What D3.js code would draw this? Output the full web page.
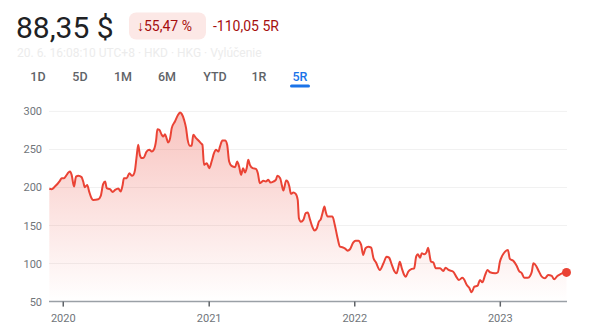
<!DOCTYPE html>
<html>
<head>
<meta charset="utf-8">
<script src="https://cdn.jsdelivr.net/npm/d3@7"></script>
<style>
  body { margin: 0; background: #fff; }
  svg { display: block; font-family: Roboto, "Noto Sans", Arial, sans-serif; }
</style>
</head>
<body>
<svg id="chart" width="602" height="336"></svg>
<script>
var dates = [
  "2019-11-27","2019-12-03","2019-12-11","2019-12-24","2019-12-28",
  "2020-01-03","2020-01-08","2020-01-14","2020-01-18","2020-01-22","2020-01-28","2020-02-02","2020-02-08","2020-02-16","2020-02-20","2020-02-24",
  "2020-03-01","2020-03-06","2020-03-12","2020-03-16","2020-03-29","2020-04-04","2020-04-10","2020-04-15","2020-04-19","2020-04-27",
  "2020-05-04","2020-05-10","2020-05-18","2020-05-24","2020-05-29","2020-06-01","2020-06-08","2020-06-15","2020-06-21","2020-06-25","2020-06-29",
  "2020-07-03","2020-07-07","2020-07-11","2020-07-16","2020-07-21","2020-07-28","2020-08-04","2020-08-10","2020-08-15","2020-08-21","2020-08-24","2020-08-29",
  "2020-09-04","2020-09-08","2020-09-12","2020-09-16","2020-09-20","2020-09-25","2020-09-29","2020-10-07","2020-10-15","2020-10-20","2020-10-24","2020-10-30",
  "2020-11-04","2020-11-08","2020-11-14","2020-11-18","2020-11-22","2020-11-29","2020-12-05","2020-12-11","2020-12-15","2020-12-19","2020-12-26",
  "2021-01-01","2021-01-07","2021-01-13","2021-01-18","2021-01-24","2021-01-28","2021-02-03","2021-02-10","2021-02-15","2021-02-20","2021-02-26",
  "2021-03-07","2021-03-12","2021-03-17","2021-03-22","2021-03-27","2021-04-01","2021-04-05","2021-04-09","2021-04-13","2021-04-20","2021-04-28",
  "2021-05-03","2021-05-08","2021-05-17","2021-05-23","2021-05-29","2021-06-04","2021-06-11","2021-06-17","2021-06-21","2021-06-28",
  "2021-07-02","2021-07-06","2021-07-13","2021-07-17","2021-07-21","2021-07-25","2021-07-31","2021-08-06","2021-08-11","2021-08-14","2021-08-19","2021-08-25","2021-08-31",
  "2021-09-05","2021-09-11","2021-09-17","2021-09-22","2021-09-28","2021-10-03","2021-10-08","2021-10-12","2021-10-17","2021-10-20","2021-10-25","2021-10-31",
  "2021-11-06","2021-11-12","2021-11-19","2021-11-25","2021-12-01","2021-12-08","2021-12-14","2021-12-20","2021-12-28",
  "2022-01-03","2022-01-10","2022-01-17","2022-01-22","2022-01-28","2022-02-04","2022-02-11","2022-02-17","2022-02-23",
  "2022-03-05","2022-03-14","2022-03-22","2022-03-28","2022-04-04","2022-04-10","2022-04-16","2022-04-20","2022-04-24","2022-04-29",
  "2022-05-05","2022-05-09","2022-05-15","2022-05-24","2022-05-30","2022-06-04","2022-06-08","2022-06-14","2022-06-18","2022-06-24","2022-06-30",
  "2022-07-04","2022-07-09","2022-07-11","2022-07-17","2022-07-23","2022-08-03","2022-08-11","2022-08-17","2022-08-24",
  "2022-09-05","2022-09-14","2022-09-19","2022-09-28","2022-10-03","2022-10-09","2022-10-15","2022-10-21","2022-10-28",
  "2022-11-05","2022-11-11","2022-11-17","2022-11-24","2022-11-30","2022-12-06","2022-12-19","2022-12-26","2022-12-31",
  "2023-01-06","2023-01-13","2023-01-20","2023-01-25","2023-02-03","2023-02-11","2023-02-17","2023-02-24",
  "2023-03-02","2023-03-11","2023-03-17","2023-03-21","2023-03-25","2023-04-01","2023-04-06","2023-04-15","2023-04-23",
  "2023-05-01","2023-05-10","2023-05-16","2023-05-24","2023-06-02","2023-06-08","2023-06-16"
];
var prices = [
  198.4,197.8,201.2,209.1,212.2,
  212.2,215.3,219.6,220.9,216.6,201.2,214.3,215.3,213.6,207.8,200.4,
  203.4,194.6,185.9,183.7,184.6,188.9,204.3,207.8,199.1,197.8,
  194.2,196.8,198.6,194.6,203.4,212.2,212.2,218.8,215.3,216.6,223.2,
  240.7,256.1,242.9,238.6,239.3,247.2,249.5,247.2,249.5,262.6,276.7,275.8,
  269.2,267.0,270.1,264.9,259.1,264.9,278.0,286.7,295.5,298.6,296.8,288.9,
  278.0,262.6,254.7,254.7,269.2,264.9,261.7,258.3,256.1,229.7,232.0,
  225.4,234.1,245.1,249.5,247.2,253.8,261.7,261.7,256.1,234.1,228.4,
  226.7,234.1,227.5,216.6,225.4,219.6,225.4,236.3,229.7,225.4,224.5,
  218.8,205.7,208.7,207.8,210.0,206.4,207.8,210.0,215.3,212.2,
  203.4,195.9,209.1,207.8,201.2,191.6,193.3,191.6,183.7,159.6,155.1,157.4,166.2,
  167.0,157.4,147.8,143.3,146.4,155.1,158.3,166.2,174.9,168.3,161.7,161.7,
  161.7,150.8,133.3,122.2,121.4,119.6,117.0,118.8,127.5,
  130.1,130.1,124.5,111.3,120.1,122.2,120.9,107.0,101.7,
  91.6,100.4,109.1,107.8,98.2,90.3,87.2,94.6,102.5,93.8,
  85.0,82.8,89.3,92.9,93.8,109.1,112.2,107.8,113.6,112.2,114.9,
  120.9,107.0,102.5,101.7,93.8,93.8,90.3,94.6,91.6,
  89.3,81.4,78.4,81.4,78.4,71.8,68.3,62.2,69.6,
  70.9,78.4,75.4,85.0,91.6,88.6,87.2,88.6,102.5,
  110.4,115.7,117.9,106.1,103.4,97.2,90.3,87.2,
  81.4,81.4,84.1,89.3,100.4,96.8,91.6,82.8,80.7,
  85.0,83.7,79.3,83.7,86.3,88.0,88.35
];
var yTicks = [50, 100, 150, 200, 250, 300];
var yearTicks = ["2020-01-01", "2021-01-01", "2022-01-01", "2023-01-01"];
var tabs = ["1D", "5D", "1M", "6M", "YTD", "1R", "5R"];
var activeTab = "5R";

var parse = d3.utcParse("%Y-%m-%d");
var data = dates.map(function (d, i) { return { date: parse(d), value: prices[i] }; });

var svg = d3.select("#chart");
var red = "#ea4335";

// header
svg.append("text").attr("x", 16).attr("y", 38)
  .attr("font-size", 30).attr("fill", "#202124").text("88,35 $");

svg.append("rect").attr("x", 129).attr("y", 12.5).attr("width", 77).attr("height", 27)
  .attr("rx", 7).attr("fill", "#fce8e6");
svg.append("text").attr("x", 137).attr("y", 31)
  .attr("font-size", 14).attr("fill", "#a50e0e").text("\u219355,47 %");
svg.append("text").attr("x", 213).attr("y", 31)
  .attr("font-size", 14).attr("fill", "#a50e0e").text("-110,05 5R");

svg.append("text").attr("x", 17).attr("y", 57)
  .attr("font-size", 12).attr("fill", "#ececec")
  .text("20. 6. 16:08:10 UTC+8 \u00b7 HKD \u00b7 HKG \u00b7 Vyl\u00fa\u010denie");

// range tabs
var tabX = [38, 80, 123, 167, 215, 259, 300];
svg.selectAll("text.tab").data(tabs).enter().append("text")
  .attr("class", "tab")
  .attr("x", function (d, i) { return tabX[i]; })
  .attr("y", 81)
  .attr("text-anchor", "middle")
  .attr("font-size", 12.5)
  .attr("font-weight", 500)
  .attr("fill", function (d) { return d === activeTab ? "#1a73e8" : "#5f6368"; })
  .text(function (d) { return d; });
svg.append("rect").attr("x", 290).attr("y", 84.5).attr("width", 20).attr("height", 3)
  .attr("rx", 1.5).attr("fill", "#1a73e8");

// scales
var x = d3.scaleUtc()
  .domain([data[0].date, data[data.length - 1].date])
  .range([49.3, 566.5]);
var y = d3.scaleLinear().domain([50, 300]).range([301.6, 111.4]);

// gridlines
svg.append("g").selectAll("line").data(yTicks.slice(1)).enter().append("line")
  .attr("x1", 49).attr("x2", 567)
  .attr("y1", function (d) { return y(d); }).attr("y2", function (d) { return y(d); })
  .attr("stroke", "#f1f1f1").attr("stroke-width", 1);

// y labels
svg.append("g").selectAll("text").data(yTicks).enter().append("text")
  .attr("x", 42).attr("y", function (d) { return y(d) + 4; })
  .attr("text-anchor", "end").attr("font-size", 11).attr("fill", "#70757a")
  .text(function (d) { return d; });

// area gradient
var grad = svg.append("defs").append("linearGradient")
  .attr("id", "fade").attr("x1", 0).attr("x2", 0).attr("y1", 0).attr("y2", 1)
  .attr("gradientUnits", "userSpaceOnUse")
  .attr("y1", y(300)).attr("y2", y(50));
grad.append("stop").attr("offset", 0).attr("stop-color", red).attr("stop-opacity", 0.32);
grad.append("stop").attr("offset", 1).attr("stop-color", red).attr("stop-opacity", 0);

var area = d3.area()
  .x(function (d) { return x(d.date); })
  .y0(y(50))
  .y1(function (d) { return y(d.value); })
  .curve(d3.curveMonotoneX);
svg.append("path").datum(data).attr("d", area).attr("fill", "url(#fade)");

var line = d3.line()
  .x(function (d) { return x(d.date); })
  .y(function (d) { return y(d.value); })
  .curve(d3.curveMonotoneX);
svg.append("path").datum(data).attr("d", line)
  .attr("fill", "none").attr("stroke", red).attr("stroke-width", 2)
  .attr("stroke-linejoin", "round");

// baseline and year ticks
svg.append("line").attr("x1", 49).attr("x2", 567)
  .attr("y1", y(50)).attr("y2", y(50))
  .attr("stroke", "#9aa0a6").attr("stroke-width", 1.5);

var years = yearTicks.map(parse);
svg.append("g").selectAll("line").data(years).enter().append("line")
  .attr("x1", function (d) { return x(d); }).attr("x2", function (d) { return x(d); })
  .attr("y1", y(50)).attr("y2", y(50) + 5)
  .attr("stroke", "#5f6368").attr("stroke-width", 1.5);
svg.append("g").selectAll("text").data(years).enter().append("text")
  .attr("x", function (d) { return x(d); }).attr("y", 322)
  .attr("text-anchor", "middle").attr("font-size", 11).attr("fill", "#70757a")
  .text(function (d) { return d3.utcFormat("%Y")(d); });

// last point
var last = data[data.length - 1];
svg.append("circle").attr("cx", x(last.date)).attr("cy", y(last.value))
  .attr("r", 4.5).attr("fill", red);
</script>
</body>
</html>
